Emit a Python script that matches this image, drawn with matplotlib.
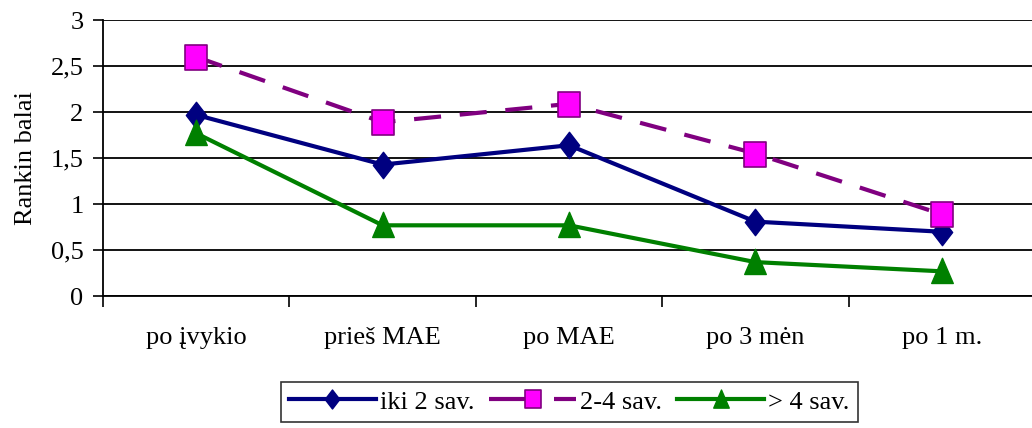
import matplotlib
matplotlib.use("Agg")
import matplotlib.pyplot as plt
from matplotlib.path import Path

categories = ["po įvykio", "prieš MAE", "po MAE", "po 3 mėn", "po 1 m."]
iki_2_sav = [1.97, 1.43, 1.64, 0.81, 0.70]
sav_2_4 = [2.60, 1.89, 2.09, 1.55, 0.89]
virs_4_sav = [1.77, 0.77, 0.77, 0.37, 0.27]
series_labels = ["iki 2 sav.", "2-4 sav.", "> 4 sav."]
y_ticks = [0, 0.5, 1, 1.5, 2, 2.5, 3]
y_tick_labels = ["0", "0,5", "1", "1,5", "2", "2,5", "3"]

plt.rcParams["font.family"] = ["Liberation Serif", "DejaVu Serif"]
plt.rcParams["font.size"] = 19

fig = plt.figure(figsize=(10.32, 4.28), dpi=100)
ax = fig.add_axes([0.0998, 0.308, 0.9032, 0.645])

# slightly tall marker shapes
diamond = Path([(0, 1.3), (1, 0), (0, -1.3), (-1, 0), (0, 1.3)], closed=True)
square = Path([(-0.85, -1), (0.85, -1), (0.85, 1), (-0.85, 1), (-0.85, -1)], closed=True)
triangle = Path([(0, 1.1), (0.9, -1.0), (-0.9, -1.0), (0, 1.1)], closed=True)

x = list(range(len(categories)))
ax.plot(x, iki_2_sav, color="#000080", lw=3, marker=diamond, ms=19,
        markerfacecolor="#000080", markeredgecolor="#000080",
        label=series_labels[0], zorder=3)
ax.plot(x, sav_2_4, color="#800080", lw=3, dashes=(6.5, 4.5), marker=square, ms=18,
        markerfacecolor="#FF00FF", markeredgecolor="#800080", markeredgewidth=1.2,
        label=series_labels[1], zorder=4)
ax.plot(x, virs_4_sav, color="#008000", lw=3, marker=triangle, ms=19,
        markerfacecolor="#008000", markeredgecolor="#008000",
        label=series_labels[2], zorder=3)

ax.set_xlim(-0.5, len(categories) - 0.5)
ax.set_ylim(0, 3)
ax.set_yticks(y_ticks)
ax.set_yticklabels(y_tick_labels)
ax.set_xticks([i - 0.5 for i in range(len(categories) + 1)])
ax.set_xticklabels([])
ax.set_xticks(x, minor=True)
ax.set_xticklabels(categories, minor=True)
ax.tick_params(axis="x", which="major", direction="out", length=8, width=1.2, color="black")
ax.tick_params(axis="x", which="minor", length=0, pad=22)
ax.tick_params(axis="y", direction="out", length=7, width=1.2, pad=7)

ax.yaxis.grid(True, color="black", lw=1.3)
ax.set_axisbelow(True)
for side in ("top", "right"):
    ax.spines[side].set_visible(False)
for side in ("left", "bottom"):
    ax.spines[side].set_color("black")
    ax.spines[side].set_linewidth(1.3)

ax.set_ylabel("Rankin balai", labelpad=10)

leg = ax.legend(loc="upper center", bbox_to_anchor=(0.5, -0.312), ncol=3,
                frameon=True, fancybox=False, edgecolor="black",
                handlelength=3.3, handletextpad=0.15, columnspacing=0.57,
                borderpad=0.3, borderaxespad=0, markerscale=0.72)
leg.get_frame().set_linewidth(1.2)
# dashed key: long stroke into the square, then one short dash
leg.get_lines()[1].set_dashes([9.6, 6.0, 5.3, 10.0])

fig.savefig("out.png", dpi=100, facecolor="white")
